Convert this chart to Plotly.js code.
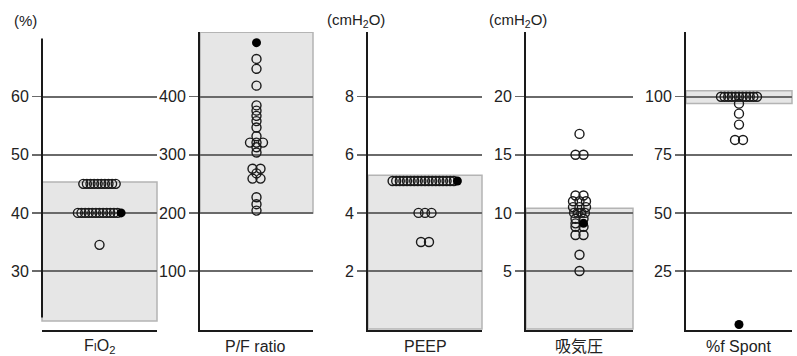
<!DOCTYPE html>
<html>
<head>
<meta charset="utf-8">
<script src="https://cdn.plot.ly/plotly-3.0.1.min.js"></script>
<style>html,body{margin:0;padding:0;background:#fff}#chart{width:797px;height:356px}</style>
</head>
<body>
<div id="chart"></div>
<script>
// ---- data ----
const panelLabels = ['F<span style="font-size:11px">I</span>O<sub>2</sub>', 'P/F ratio', 'PEEP', '吸気圧', '%f Spont'];
const unitLabels = ['(%)', '', '(cmH<sub>2</sub>O)', '(cmH<sub>2</sub>O)', ''];
const tickValues = [[30, 40, 50, 60], [100, 200, 300, 400], [2, 4, 6, 8], [5, 10, 15, 20], [25, 50, 75, 100]];
const bandLow  = [21.4, 200, 0, 0, 97.1];
const bandHigh = [45.3, 511, 5.3, 10.4, 102.6];

const fio2Open = [45, 45, 45, 45, 45, 45, 45, 45, 45, 45,
                  40, 40, 40, 40, 40, 40, 40, 40, 40, 40, 40, 40, 34.5];
const fio2Filled = [40];
const pfOpen = [465, 448, 419, 385, 376, 367, 358, 347, 332, 321, 321, 321, 313, 304,
                276, 276, 268, 259, 259, 227, 215, 204];
const pfFilled = [493];
const peepOpen = [5.1, 5.1, 5.1, 5.1, 5.1, 5.1, 5.1, 5.1, 5.1, 5.1, 5.1, 5.1, 5.1, 5.1, 5.1, 5.1, 5.1, 5.1,
                  4, 4, 4, 3, 3];
const peepFilled = [5.1];
const pipOpen = [16.8, 15, 15, 11.5, 11.5, 11, 11, 11, 10.5, 10.5, 10.5, 10, 10, 10, 10,
                 9.5, 9.5, 9.1, 8.8, 8.8, 8.1, 8.1, 6.4, 5];
const pipFilled = [9.1];
const spontOpen = [100, 100, 100, 100, 100, 100, 100, 100, 100, 100, 100, 97, 92.7, 88, 81.4, 81.4];
const spontFilled = [2];

const openSets = [fio2Open, pfOpen, peepOpen, pipOpen, spontOpen];
const filledSets = [fio2Filled, pfFilled, peepFilled, pipFilled, spontFilled];

// ---- layout geometry (pixels) ----
const W = 797, H = 356;
const panelX = [[42, 157], [200, 313], [368, 482], [526, 633], [686, 792]];
const labelX = [100, 256, 425, 579, 738];
const unitX = [12, 0, 325, 487, 0];
const plotTop = 32, plotBottom = 330, firstTickPx = 271, tickGapPx = 58.1;
const FONT = 'Liberation Sans, Arial, Noto Sans CJK JP, sans-serif';

function spacingFor(n) { return n === 2 ? 8 : (n === 3 ? 6.5 : 3.6); }

const data = [];
const layout = {
  width: W, height: H,
  margin: {l: 0, r: 0, t: 0, b: 0, pad: 0},
  paper_bgcolor: '#fff', plot_bgcolor: 'rgba(0,0,0,0)',
  showlegend: false,
  shapes: [], annotations: []
};

for (let i = 0; i < 5; i++) {
  const ax = i === 0 ? '' : String(i + 1);
  const [x0, x1] = panelX[i];
  const pw = x1 - x0;
  const ticks = tickValues[i];
  const step = ticks[1] - ticks[0];
  const yLo = ticks[0] - (plotBottom - firstTickPx) / tickGapPx * step;
  const yHi = ticks[0] + (firstTickPx - plotTop) / tickGapPx * step;

  // group points of equal value into horizontal rows (filled point placed last)
  const pts = openSets[i].map(v => ({v, f: false})).concat(filledSets[i].map(v => ({v, f: true})));
  const groups = {};
  pts.forEach(p => { const k = p.v.toFixed(3); (groups[k] = groups[k] || []).push(p); });
  const ox = [], oy = [], fx = [], fy = [];
  Object.values(groups).forEach(g => {
    g.sort((a, b) => (a.f ? 1 : 0) - (b.f ? 1 : 0));
    const s = spacingFor(g.length);
    g.forEach((p, j) => {
      const off = (j - (g.length - 1) / 2) * s;
      const xd = off / pw * 2;
      if (p.f) { fx.push(xd); fy.push(p.v); } else { ox.push(xd); oy.push(p.v); }
    });
  });
  data.push({type: 'scatter', mode: 'markers', x: ox, y: oy, xaxis: 'x' + ax, yaxis: 'y' + ax,
    marker: {symbol: 'circle-open', size: 9, color: '#1a1a1a', line: {width: 1.4, color: '#1a1a1a'}},
    hoverinfo: 'y'});
  data.push({type: 'scatter', mode: 'markers', x: fx, y: fy, xaxis: 'x' + ax, yaxis: 'y' + ax,
    marker: {symbol: 'circle', size: 9, color: '#000'}, hoverinfo: 'y'});

  layout['xaxis' + ax] = {
    domain: [x0 / W, x1 / W], range: [-1, 1], anchor: 'y' + ax,
    showgrid: false, zeroline: false, showticklabels: false, ticks: '',
    showline: true, linecolor: '#1a1a1a', linewidth: 2, fixedrange: true
  };
  layout['yaxis' + ax] = {
    domain: [(H - plotBottom) / H, (H - plotTop) / H], range: [yLo, yHi], anchor: 'x' + ax,
    tickmode: 'array', tickvals: ticks, ticktext: ticks.map(String),
    ticks: 'outside', ticklen: 9, tickwidth: 1.5, tickcolor: '#6a6a6a',
    showgrid: true, gridcolor: '#6a6a6a', gridwidth: 1.6, zeroline: false,
    showline: i !== 0, linecolor: '#1a1a1a', linewidth: 2,
    tickfont: {family: FONT, size: 16, color: '#222'}, fixedrange: true
  };

  // reference band
  layout.shapes.push({type: 'rect', layer: 'below', xref: 'x' + ax + ' domain', yref: 'y' + ax,
    x0: 0, x1: 1, y0: bandLow[i], y1: Math.min(bandHigh[i], yHi),
    fillcolor: '#e6e6e6', line: {color: '#b4b4b4', width: 1.5}});

  layout.annotations.push({xref: 'paper', yref: 'paper', x: labelX[i] / W, y: 1 - 346 / H,
    xanchor: 'center', yanchor: 'middle', showarrow: false, text: panelLabels[i],
    font: {family: FONT, size: 16, color: '#222'}});
  if (unitLabels[i]) {
    layout.annotations.push({xref: 'paper', yref: 'paper', x: unitX[i] / W, y: 1 - 21 / H,
      xanchor: 'left', yanchor: 'middle', showarrow: false, text: unitLabels[i],
      font: {family: FONT, size: 15, color: '#222'}});
  }
}

// FiO2 vertical axis line is shorter than the others
layout.shapes.push({type: 'line', layer: 'above', xref: 'x domain', yref: 'y',
  x0: 0, x1: 0, y0: 22, y1: 70, line: {color: '#1a1a1a', width: 2}});

Plotly.newPlot('chart', data, layout, {displayModeBar: false, staticPlot: true});
</script>
</body>
</html>
